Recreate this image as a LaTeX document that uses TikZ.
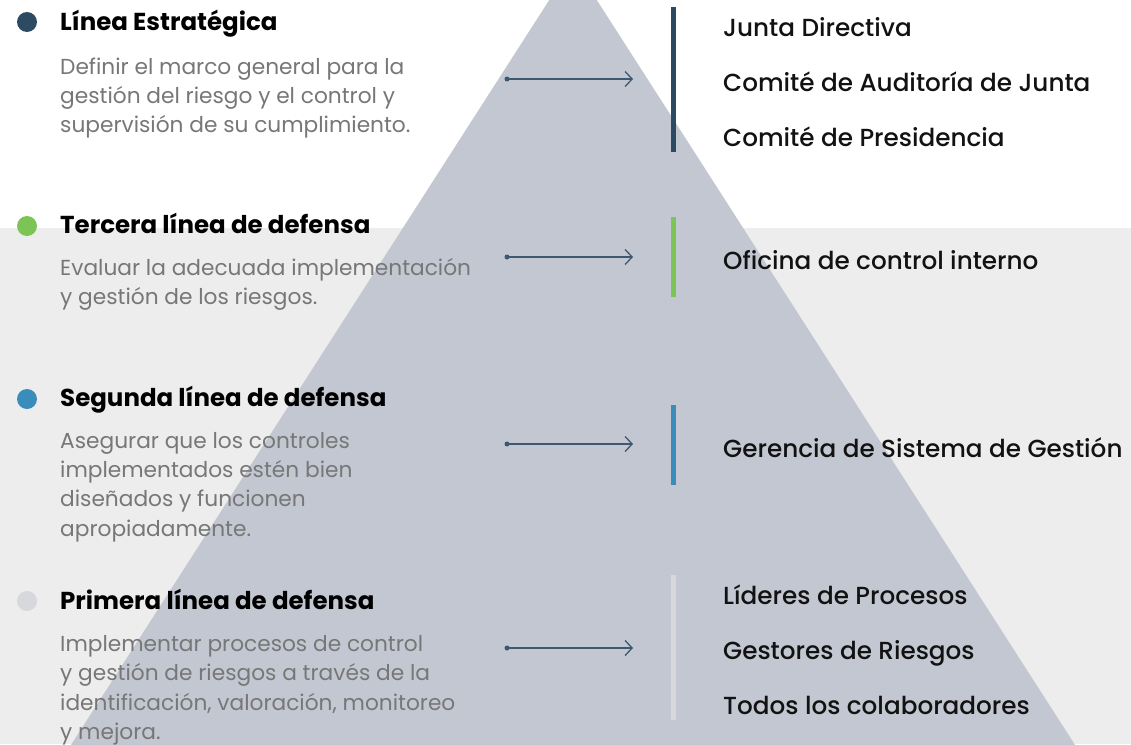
\documentclass[tikz,border=0pt]{standalone}
\usepackage{fontspec}
\setmainfont{Poppins}
\newfontfamily\medfont{Poppins}[UprightFont=* Medium]
\usetikzlibrary{arrows.meta}
\definecolor{pyr}{HTML}{C2C7D1}
\definecolor{bgg}{HTML}{EDEDED}
\definecolor{navy}{HTML}{2D4A63}
\definecolor{lgreen}{HTML}{7CC456}
\definecolor{lblue}{HTML}{3A8DBA}
\definecolor{lgrey}{HTML}{D7D8DB}
\definecolor{bodyc}{HTML}{777777}
\definecolor{arrc}{HTML}{3D5870}
\tikzset{
  head/.style={anchor=base west,inner sep=0pt,font=\fontsize{24.5}{28}\selectfont\bfseries,text=black},
  body/.style={anchor=base west,inner sep=0pt,font=\fontsize{21.7}{29}\selectfont,text=bodyc},
  role/.style={anchor=base west,inner sep=0pt,font=\fontsize{24.7}{28}\medfont,text=black!93},
  dot/.style={circle,minimum size=20pt,inner sep=0pt},
  bar/.style={line width=5pt},
  conn/.style={draw=arrc,line width=1.3pt,-{Straight Barb[length=7pt,width=15pt,line width=1.3pt]}},
  startpt/.style={circle,fill=arrc,minimum size=5pt,inner sep=0pt}
}
\begin{document}
\begin{tikzpicture}[x=1pt,y=-1pt]
\useasboundingbox (0,0) rectangle (1131,744);
\begin{scope}
\clip (0,0) rectangle (1131,744);
\fill[white] (0,0) rectangle (1131,228);
\fill[bgg] (0,228) rectangle (1131,744);
\fill[pyr] (573,-37) -- (1120,815) -- (26,815) -- cycle;
\end{scope}
% bullets
\node[dot,fill=navy] (b1) at (27,22) {};
\node[dot,fill=lgreen] (b2) at (27,226) {};
\node[dot,fill=lblue] (b3) at (27,399) {};
\node[dot,fill=lgrey] (b4) at (27,601) {};
% headings
\node[head] (h1) at (60,30) {Línea Estratégica};
\node[head] (h2) at (60,233) {Tercera línea de defensa};
\node[head] (h3) at (60,406) {Segunda línea de defensa};
\node[head] (h4) at (60,609) {Primera línea de defensa};
% bodies
\node[body] (d1a) at (60,74) {Definir el marco general para la};
\node[body] (d1b) at (60,103) {gestión del riesgo y el control y};
\node[body] (d1c) at (60,132) {supervisión de su cumplimiento.};
\node[body] (d2a) at (60,275) {Evaluar la adecuada implementación};
\node[body] (d2b) at (60,304) {y gestión de los riesgos.};
\node[body] (d3a) at (60,448) {Asegurar que los controles};
\node[body] (d3b) at (60,477) {implementados estén bien};
\node[body] (d3c) at (60,506) {diseñados y funcionen};
\node[body] (d3d) at (60,536) {apropiadamente.};
\node[body] (d4a) at (60,651) {Implementar procesos de control};
\node[body] (d4b) at (60,680) {y gestión de riesgos a través de la};
\node[body] (d4c) at (60,710) {identificación, valoración, monitoreo};
\node[body] (d4d) at (60,739) {y mejora.};
% arrows
\foreach \i/\y in {1/79,2/257,3/444,4/648}{
  \node[startpt] (s\i) at (507,\y) {};
  \coordinate (e\i) at (633,\y);
  \draw[conn] (s\i.center) -- (e\i);
}
% bars
\coordinate (t1) at (673,7);   \coordinate (u1) at (673,152);
\coordinate (t2) at (673,217); \coordinate (u2) at (673,297);
\coordinate (t3) at (673,405); \coordinate (u3) at (673,485);
\coordinate (t4) at (673,575); \coordinate (u4) at (673,720);
\draw[bar,navy] (t1) -- (u1);
\draw[bar,lgreen] (t2) -- (u2);
\draw[bar,lblue] (t3) -- (u3);
\draw[bar,lgrey] (t4) -- (u4);
% roles
\node[role] (r1) at (723,36) {Junta Directiva};
\node[role] (r2) at (723,91) {Comité de Auditoría de Junta};
\node[role] (r3) at (723,146) {Comité de Presidencia};
\node[role] (r4) at (723,269) {Oficina de control interno};
\node[role] (r5) at (723,457) {Gerencia de Sistema de Gestión};
\node[role] (r6) at (723,604) {Líderes de Procesos};
\node[role] (r7) at (723,659) {Gestores de Riesgos};
\node[role] (r8) at (723,714) {Todos los colaboradores};
\end{tikzpicture}
\end{document}
